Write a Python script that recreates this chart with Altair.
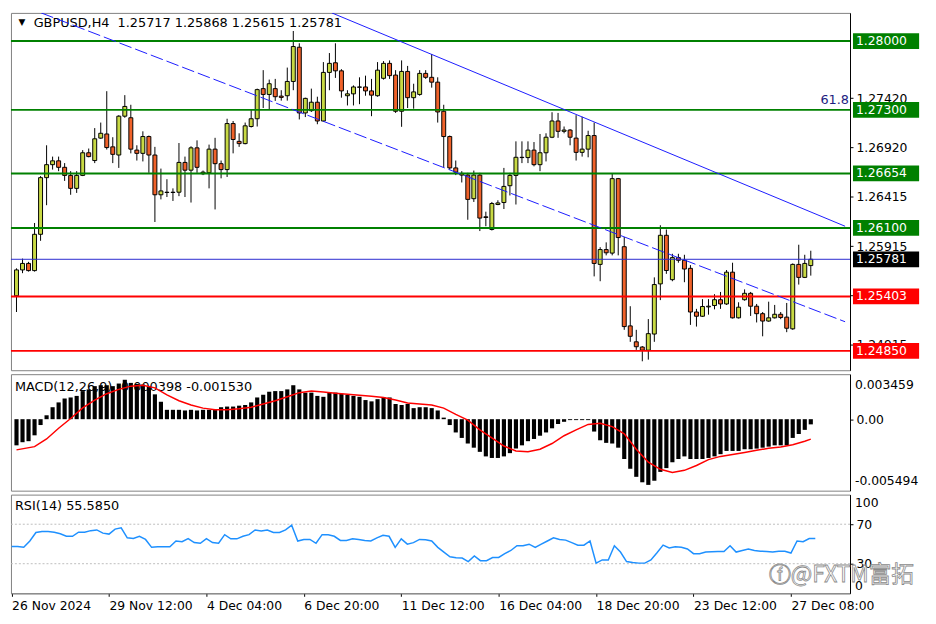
import altair as alt
import pandas as pd

# ---------------- data ----------------
opens = [1.25410, 1.25673, 1.25739, 1.25666, 1.26035, 1.26611, 1.26743, 1.26782, 1.26716, 1.26634,
         1.26502, 1.26634, 1.26864, 1.26785, 1.27013, 1.27055, 1.26924, 1.26841, 1.27236, 1.27220,
         1.26891, 1.26858, 1.27029, 1.26841, 1.26437, 1.26460, 1.26463, 1.26463, 1.26766, 1.26687,
         1.26914, 1.26667, 1.26660, 1.26901, 1.26753, 1.26693, 1.27161, 1.26980, 1.26957, 1.27131,
         1.27210, 1.27516, 1.27457, 1.27516, 1.27440, 1.27444, 1.27589, 1.27937, 1.27269, 1.27292,
         1.27378, 1.27187, 1.27681, 1.27779, 1.27697, 1.27444, 1.27463, 1.27533, 1.27533, 1.27493,
         1.27444, 1.27621, 1.27773, 1.27654, 1.27286, 1.27691, 1.27424, 1.27457, 1.27671, 1.27631,
         1.27582, 1.27286, 1.27029, 1.26710, 1.26654, 1.26637, 1.26397, 1.26637, 1.26213, 1.26084,
         1.26338, 1.26358, 1.26529, 1.26634, 1.26815, 1.26815, 1.26891, 1.26743, 1.26864, 1.27022,
         1.27187, 1.27082, 1.27095, 1.27013, 1.26868, 1.26901, 1.27039, 1.25729, 1.25880, 1.25844,
         1.26601, 1.25909, 1.25104, 1.24942, 1.24889, 1.24857, 1.25021, 1.25531, 1.26025, 1.25574,
         1.25798, 1.25771, 1.25689, 1.25245, 1.25202, 1.25297, 1.25311, 1.25370, 1.25327, 1.25650,
         1.25186, 1.25370, 1.25435, 1.25304, 1.25228, 1.25153, 1.25186, 1.25222, 1.25193, 1.25074,
         1.25729, 1.25597, 1.25717]
highs = [1.25689, 1.25788, 1.25755, 1.26150, 1.26627, 1.26940, 1.26825, 1.26825, 1.26759, 1.26677,
         1.26677, 1.26891, 1.26907, 1.27115, 1.27171, 1.27490, 1.27022, 1.27246, 1.27450, 1.27352,
         1.26940, 1.27082, 1.27039, 1.26924, 1.26703, 1.26595, 1.26502, 1.26963, 1.26825, 1.26930,
         1.26990, 1.26683, 1.26947, 1.27016, 1.26785, 1.27210, 1.27187, 1.27062, 1.27171, 1.27302,
         1.27516, 1.27704, 1.27608, 1.27615, 1.27500, 1.27730, 1.28102, 1.27977, 1.27424, 1.27516,
         1.27434, 1.27786, 1.27878, 1.27977, 1.27714, 1.27500, 1.27549, 1.27631, 1.27648, 1.27615,
         1.27786, 1.27796, 1.27803, 1.27704, 1.27803, 1.27747, 1.27566, 1.27704, 1.27704, 1.27868,
         1.27631, 1.27352, 1.27039, 1.26785, 1.26677, 1.26660, 1.26683, 1.26660, 1.26265, 1.26364,
         1.26381, 1.26710, 1.26660, 1.26980, 1.26980, 1.26980, 1.26973, 1.27055, 1.27062, 1.27276,
         1.27269, 1.27131, 1.27105, 1.27246, 1.27230, 1.27088, 1.27171, 1.25904, 1.25953, 1.26654,
         1.26608, 1.26008, 1.25304, 1.25064, 1.24899, 1.25173, 1.25597, 1.26127, 1.26084, 1.25837,
         1.25837, 1.25827, 1.25722, 1.25277, 1.25376, 1.25376, 1.25426, 1.25449, 1.25672, 1.25746,
         1.25344, 1.25475, 1.25449, 1.25327, 1.25245, 1.25350, 1.25317, 1.25245, 1.25337, 1.25739,
         1.25929, 1.25827, 1.25868]
lows = [1.25245, 1.25640, 1.25656, 1.25656, 1.25969, 1.26331, 1.26693, 1.26677, 1.26578, 1.26437,
        1.26456, 1.26627, 1.26818, 1.26759, 1.27006, 1.26897, 1.26759, 1.26710, 1.27220, 1.26858,
        1.26785, 1.26776, 1.26660, 1.26160, 1.26390, 1.26414, 1.26374, 1.26423, 1.26414, 1.26358,
        1.26660, 1.26637, 1.26502, 1.26288, 1.26604, 1.26618, 1.26858, 1.26924, 1.26950, 1.27121,
        1.27131, 1.27319, 1.27302, 1.27391, 1.27394, 1.27394, 1.27500, 1.27203, 1.27227, 1.27279,
        1.27154, 1.27180, 1.27500, 1.27625, 1.27424, 1.27345, 1.27345, 1.27358, 1.27444, 1.27236,
        1.27434, 1.27608, 1.27615, 1.27269, 1.27128, 1.27319, 1.27312, 1.27444, 1.27615, 1.27526,
        1.27171, 1.26720, 1.26693, 1.26637, 1.26562, 1.26183, 1.26364, 1.26068, 1.26117, 1.26074,
        1.26331, 1.26292, 1.26430, 1.26338, 1.26759, 1.26759, 1.26726, 1.26677, 1.26776, 1.27013,
        1.27016, 1.27062, 1.26940, 1.26785, 1.26825, 1.26818, 1.25607, 1.25558, 1.25821, 1.25821,
        1.25821, 1.25064, 1.24942, 1.24860, 1.24744, 1.24761, 1.24942, 1.25366, 1.25633, 1.25558,
        1.25746, 1.25548, 1.25114, 1.25097, 1.25195, 1.25218, 1.25272, 1.25277, 1.25317, 1.25179,
        1.25179, 1.25360, 1.25205, 1.25139, 1.24998, 1.25146, 1.25179, 1.25172, 1.25040, 1.25064,
        1.25524, 1.25590, 1.25615]
closes = [1.25673, 1.25739, 1.25666, 1.26035, 1.26611, 1.26743, 1.26782, 1.26716, 1.26634, 1.26502,
          1.26634, 1.26864, 1.26825, 1.27006, 1.27062, 1.26917, 1.26848, 1.27236, 1.27335, 1.26901,
          1.26858, 1.27029, 1.26841, 1.26437, 1.26476, 1.26463, 1.26460, 1.26766, 1.26687, 1.26914,
          1.26716, 1.26651, 1.26901, 1.26753, 1.26693, 1.27161, 1.26999, 1.26957, 1.27138, 1.27210,
          1.27506, 1.27457, 1.27566, 1.27434, 1.27427, 1.27589, 1.27944, 1.27269, 1.27417, 1.27378,
          1.27187, 1.27681, 1.27773, 1.27697, 1.27493, 1.27463, 1.27533, 1.27530, 1.27493, 1.27450,
          1.27704, 1.27773, 1.27648, 1.27286, 1.27691, 1.27424, 1.27483, 1.27671, 1.27631, 1.27582,
          1.27279, 1.27029, 1.26710, 1.26667, 1.26637, 1.26390, 1.26637, 1.26200, 1.26206, 1.26348,
          1.26354, 1.26522, 1.26634, 1.26818, 1.26818, 1.26891, 1.26743, 1.26864, 1.27022, 1.27187,
          1.27082, 1.27095, 1.27022, 1.26868, 1.26901, 1.27039, 1.25739, 1.25880, 1.25847, 1.26601,
          1.26002, 1.25097, 1.24998, 1.24892, 1.24857, 1.25025, 1.25524, 1.26025, 1.25667, 1.25798,
          1.25771, 1.25682, 1.25245, 1.25202, 1.25301, 1.25304, 1.25370, 1.25327, 1.25650, 1.25186,
          1.25294, 1.25435, 1.25304, 1.25228, 1.25153, 1.25186, 1.25222, 1.25189, 1.25080, 1.25729,
          1.25597, 1.25739, 1.25781]

macd_hist = [-0.00201, -0.00177, -0.00169, -0.00124, -0.00045, 0.00030, 0.00092, 0.00129, 0.00159, 0.00167,
             0.00179, 0.00216, 0.00229, 0.00254, 0.00261, 0.00261, 0.00254, 0.00274, 0.00303, 0.00279,
             0.00271, 0.00266, 0.00254, 0.00191, 0.00134, 0.00072, 0.00072, 0.00072, 0.00067, 0.00072,
             0.00067, 0.00072, 0.00072, 0.00072, 0.00092, 0.00097, 0.00097, 0.00104, 0.00109, 0.00129,
             0.00167, 0.00187, 0.00211, 0.00216, 0.00216, 0.00229, 0.00261, 0.00229, 0.00204, 0.00204,
             0.00179, 0.00172, 0.00204, 0.00204, 0.00196, 0.00187, 0.00179, 0.00172, 0.00147, 0.00137,
             0.00154, 0.00167, 0.00167, 0.00117, 0.00109, 0.00117, 0.00085, 0.00092, 0.00092, 0.00085,
             0.00067, 0.00012, -0.00045, -0.00102, -0.00144, -0.00187, -0.00219, -0.00251, -0.00286, -0.00298,
             -0.00298, -0.00286, -0.00261, -0.00226, -0.00201, -0.00169, -0.00152, -0.00127, -0.00102, -0.00070,
             -0.00037, -0.00020, -0.00007, -0.00007, -0.00007, -0.00007, -0.00095, -0.00162, -0.00182, -0.00187,
             -0.00219, -0.00306, -0.00381, -0.00443, -0.00485, -0.00505, -0.00473, -0.00405, -0.00376, -0.00331,
             -0.00306, -0.00286, -0.00306, -0.00306, -0.00306, -0.00298, -0.00286, -0.00269, -0.00244, -0.00244,
             -0.00244, -0.00231, -0.00231, -0.00226, -0.00219, -0.00211, -0.00201, -0.00201, -0.00201, -0.00144,
             -0.00114, -0.00082, -0.000398]

signal_idx = [0, 3, 5, 7, 9, 11, 13, 15, 17, 19, 21, 23, 25, 27, 29, 31, 33, 35, 37, 39,
              41, 43, 45, 47, 49, 51, 53, 55, 57, 59, 61, 63, 65, 67, 69, 71, 73, 75, 77, 79,
              81, 83, 85, 87, 89, 91, 93, 95, 97, 99, 101, 103, 105, 107, 109, 111, 113, 115, 117, 119,
              121, 123, 125, 127, 129, 131, 132]
signal_val = [-0.00236, -0.00211, -0.00152, -0.00070, 0.00005, 0.00087, 0.00147, 0.00196, 0.00229, 0.00254,
              0.00261, 0.00241, 0.00187, 0.00142, 0.00109, 0.00085, 0.00072, 0.00072, 0.00080, 0.00092,
              0.00117, 0.00142, 0.00172, 0.00204, 0.00216, 0.00209, 0.00199, 0.00191, 0.00184, 0.00177,
              0.00167, 0.00147, 0.00124, 0.00117, 0.00109, 0.00085, 0.00037, -0.00007, -0.00082, -0.00144,
              -0.00206, -0.00244, -0.00251, -0.00231, -0.00187, -0.00127, -0.00082, -0.00040, -0.00032, -0.00057,
              -0.00112, -0.00231, -0.00331, -0.00385, -0.00410, -0.00393, -0.00356, -0.00311, -0.00286, -0.00271,
              -0.00256, -0.00239, -0.00224, -0.00214, -0.00196, -0.00169, -0.00153]

rsi_vals = [47.5, 47.5, 46.6, 53.0, 61.6, 62.6, 62.6, 61.9, 60.3, 57.8,
            57.8, 61.9, 61.9, 63.5, 64.2, 61.0, 60.0, 65.1, 66.4, 56.2,
            55.5, 57.8, 54.6, 46.6, 47.2, 47.2, 47.2, 53.0, 52.3, 55.5,
            51.4, 50.7, 55.5, 51.4, 50.7, 59.4, 55.2, 55.2, 57.8, 59.4,
            64.2, 63.2, 64.2, 61.6, 61.6, 64.2, 69.0, 53.0, 54.6, 54.6,
            50.7, 59.4, 59.4, 57.8, 53.6, 53.6, 55.2, 54.6, 53.6, 53.0,
            56.2, 58.7, 57.8, 46.6, 55.2, 49.8, 51.4, 54.6, 54.2, 53.0,
            46.6, 41.8, 37.0, 36.0, 35.7, 32.2, 37.9, 33.1, 33.1, 36.3,
            36.3, 40.2, 43.4, 48.2, 48.2, 49.8, 46.6, 49.8, 53.0, 56.2,
            54.6, 53.9, 51.4, 48.8, 48.8, 53.0, 30.6, 33.8, 33.8, 48.2,
            41.8, 32.2, 31.2, 30.6, 30.6, 33.8, 41.1, 48.8, 45.9, 47.2,
            46.6, 45.0, 40.2, 40.2, 41.8, 42.1, 42.4, 42.4, 48.2, 41.8,
            43.4, 45.0, 43.4, 42.7, 42.4, 41.8, 42.7, 42.7, 40.8, 53.0,
            52.3, 55.5, 55.585]

time_ticks = [0, 16, 32, 48, 64, 80, 96, 112, 128]
time_labels = ["26 Nov 2024", "29 Nov 12:00", "4 Dec 04:00", "6 Dec 20:00", "11 Dec 12:00",
               "16 Dec 04:00", "18 Dec 20:00", "23 Dec 12:00", "27 Dec 08:00"]
price_ticks = [1.27420, 1.26920, 1.26415, 1.25915, 1.25415, 1.24915]
green_levels = [1.28000, 1.27300, 1.26654, 1.26100]
red_levels = [1.25403, 1.24850]
bid_price = 1.25781
trend_solid_i = [52.4, 137.7]
trend_solid_p = [1.28286, 1.26117]
trend_dash_i = [4.1, 137.7]
trend_dash_p = [1.28286, 1.25146]
fib_text = "61.8"
fib_price = 1.27405
macd_max, macd_min = 0.003459, -0.005494
rsi_levels = [70, 30]
header = "GBPUSD,H4\u00a0 1.25717 1.25868 1.25615 1.25781"
macd_header = "MACD(12,26,9) -0.000398 -0.001530"
rsi_header = "RSI(14) 55.5850"

# ---------------- styling ----------------
W, H1, H2, H3 = 850, 362, 118, 100
FONT = "DejaVu Sans"
BULL, BEAR = "#c8d944", "#f0622a"
GREEN, RED, BLUE = "#008000", "#ff0000", "#1a1aff"

n = len(opens)
candles = pd.DataFrame({"i": list(range(n)), "open": opens, "high": highs, "low": lows, "close": closes})
candles["dir"] = ["up" if c >= o else "down" for o, c in zip(opens, closes)]

xs = alt.Scale(domain=[-0.1, 137.7], nice=False, zero=False)
x_enc = alt.X("i:Q", scale=xs, axis=None)

ps = alt.Scale(domain=[1.24653, 1.28286], nice=False, zero=False)
p_axis = alt.Axis(orient="right", values=price_ticks, format=".5f", labelFont=FONT, labelFontSize=12.5,
                  labelColor="black", tickColor="black", tickSize=3, domainColor="black", grid=False,
                  title=None, labelPadding=3, labelFlush=False, labelOverlap=False, labelBound=False)


def py(field):
    return alt.Y(field, type="quantitative", scale=ps, axis=p_axis)


one = pd.DataFrame({"k": [0]})

title_tri = alt.Chart(one).mark_text(text="\u25bc", font=FONT, fontSize=9, align="center",
                                     baseline="middle", color="black").encode(
    x=alt.value(11), y=alt.value(9))
title_txt = alt.Chart(one).mark_text(text=header, font=FONT, fontSize=13, align="left",
                                     baseline="middle", color="black").encode(
    x=alt.value(23), y=alt.value(10))

wicks = alt.Chart(candles).mark_rule(color="black", strokeWidth=1, clip=True).encode(
    x=x_enc, y=py("low"), y2="high")
bodies = alt.Chart(candles).mark_bar(size=4, stroke="black", strokeWidth=1, clip=True).encode(
    x=x_enc, y=py("open"), y2="close",
    fill=alt.Fill("dir:N", scale=alt.Scale(domain=["up", "down"], range=[BULL, BEAR]), legend=None))

g_df = pd.DataFrame({"price": green_levels})
r_df = pd.DataFrame({"price": red_levels})
b_df = pd.DataFrame({"price": [bid_price]})
g_lines = alt.Chart(g_df).mark_rule(color=GREEN, strokeWidth=2).encode(y=py("price"))
r_lines = alt.Chart(r_df).mark_rule(color=RED, strokeWidth=2).encode(y=py("price"))
b_line = alt.Chart(b_df).mark_rule(color="#2a2ad0", strokeWidth=1).encode(y=py("price"))

tr_solid = alt.Chart(pd.DataFrame({"i": trend_solid_i, "price": trend_solid_p})).mark_line(
    color=BLUE, strokeWidth=1, clip=True).encode(x=x_enc, y=py("price"))
tr_dash = alt.Chart(pd.DataFrame({"i": trend_dash_i, "price": trend_dash_p})).mark_line(
    color=BLUE, strokeWidth=1, strokeDash=[13, 4], clip=True).encode(x=x_enc, y=py("price"))

fib = alt.Chart(pd.DataFrame({"price": [fib_price], "t": [fib_text]})).mark_text(
    font=FONT, fontSize=13, align="right", baseline="middle", color="#1c1c80").encode(
    x=alt.value(W - 1), y=py("price"), text="t:N")

box_prices = green_levels + [bid_price] + red_levels
box_cols = [GREEN] * len(green_levels) + ["#000000"] + [RED] * len(red_levels)
boxes_df = pd.DataFrame({"price": box_prices, "col": box_cols,
                         "label": [f"{p:.5f}" for p in box_prices]})
boxes = alt.Chart(boxes_df).mark_rule(strokeWidth=16, strokeCap="butt").encode(
    y=py("price"), x=alt.value(W + 3), x2=alt.value(W + 70),
    stroke=alt.Stroke("col:N", scale=None))
box_txt = alt.Chart(boxes_df).mark_text(font=FONT, fontSize=12.5, align="left", baseline="middle",
                                        color="white").encode(
    y=py("price"), x=alt.value(W + 6), text="label:N")

price_chart = alt.layer(title_tri, title_txt, wicks, bodies, g_lines, r_lines, b_line,
                        tr_solid, tr_dash, fib, boxes, box_txt).properties(width=W, height=H1)

# ---------------- MACD ----------------
ms = alt.Scale(domain=[macd_min, macd_max], nice=False, zero=False)
m_axis = alt.Axis(orient="right", values=[0.0], labelExpr="'0.00'",
                  labelFont=FONT, labelFontSize=12.5, labelColor="black", tickColor="black",
                  tickSize=3, domainColor="black", grid=False, title=None, labelPadding=3,
                  labelFlush=False, labelOverlap=False, labelBound=False)
macd_df = pd.DataFrame({"i": list(range(n)), "v": macd_hist})
sig_df = pd.DataFrame({"i": signal_idx, "v": signal_val})

m_title = alt.Chart(one).mark_text(text=macd_header, font=FONT, fontSize=13, align="left",
                                   baseline="middle", color="black").encode(
    x=alt.value(4), y=alt.value(13))
m_bars = alt.Chart(macd_df).mark_bar(size=4.2, color="black").encode(
    x=x_enc, y=alt.Y("v:Q", scale=ms, axis=m_axis), y2=alt.datum(0))
m_sig = alt.Chart(sig_df).mark_line(color="#ff0000", strokeWidth=1.5).encode(
    x=x_enc, y=alt.Y("v:Q", scale=ms, axis=m_axis))
m_top = alt.Chart(one).mark_text(text=f"{macd_max:.6f}", font=FONT, fontSize=12.5, align="left",
                                 baseline="middle", color="black").encode(
    x=alt.value(W + 5), y=alt.value(11))
m_bot = alt.Chart(one).mark_text(text=f"{macd_min:.6f}", font=FONT, fontSize=12.5, align="left",
                                 baseline="middle", color="black").encode(
    x=alt.value(W + 5), y=alt.value(H2 - 10))
macd_chart = alt.layer(m_title, m_bars, m_sig, m_top, m_bot).properties(width=W, height=H2)

# ---------------- RSI ----------------
rs = alt.Scale(domain=[0, 100], nice=False, zero=False)
r_axis = alt.Axis(orient="right", values=rsi_levels, format="d", labelFont=FONT, labelFontSize=12.5,
                  labelColor="black", tickColor="black", tickSize=3, domainColor="black", grid=False,
                  title=None, labelPadding=3, labelFlush=False, labelOverlap=False, labelBound=False)
lbl_list = "[" + ",".join("'" + s + "'" for s in time_labels) + "]"
tk_list = "[" + ",".join(str(t) for t in time_ticks) + "]"
x_axis = alt.Axis(orient="bottom", values=time_ticks, labelExpr=f"{lbl_list}[indexof({tk_list}, datum.value)]",
                  labelAlign="left", labelBaseline="top", labelFont=FONT, labelFontSize=12.5,
                  labelColor="black", tickColor="black", tickSize=3, domainColor="#808080",
                  grid=False, title=None, labelPadding=3, labelFlush=False, labelOverlap=False,
                  labelBound=False)
rsi_df = pd.DataFrame({"i": list(range(n)), "v": rsi_vals})
lv_df = pd.DataFrame({"v": rsi_levels})

r_title = alt.Chart(one).mark_text(text=rsi_header, font=FONT, fontSize=13, align="left",
                                   baseline="middle", color="black").encode(
    x=alt.value(4), y=alt.value(12))
r_levels = alt.Chart(lv_df).mark_rule(color="#bdbdbd", strokeWidth=1, strokeDash=[2, 2]).encode(
    y=alt.Y("v:Q", scale=rs, axis=r_axis))
r_line = alt.Chart(rsi_df).mark_line(color="#1e90ff", strokeWidth=1.5).encode(
    x=alt.X("i:Q", scale=xs, axis=x_axis), y=alt.Y("v:Q", scale=rs, axis=r_axis))
r_top = alt.Chart(one).mark_text(text="100", font=FONT, fontSize=12.5, align="left",
                                 baseline="middle", color="black").encode(
    x=alt.value(W + 5), y=alt.value(9))
r_bot = alt.Chart(one).mark_text(text="0", font=FONT, fontSize=12.5, align="left",
                                 baseline="middle", color="black").encode(
    x=alt.value(W + 5), y=alt.value(H3 - 7))
wm_icon = alt.Chart(one).mark_text(text="\u24d5", font=FONT, fontSize=22, align="left",
                                   baseline="middle", fill="#ffffff", fillOpacity=0.0,
                                   stroke="#8a8a8a", strokeWidth=0.8).encode(
    x=alt.value(W - 82), y=alt.value(H3 - 18))
wm_txt = alt.Chart(one).mark_text(text="@FXTM富拓", font="Noto Sans CJK SC", fontSize=23,
                                  align="left", baseline="middle", fill="#ffffff", fillOpacity=0.0,
                                  stroke="#8a8a8a", strokeWidth=0.8).encode(
    x=alt.value(W - 60), y=alt.value(H3 - 18))
rsi_chart = alt.layer(r_title, r_levels, r_line, r_top, r_bot, wm_icon, wm_txt).properties(
    width=W, height=H3)

chart = alt.vconcat(price_chart, macd_chart, rsi_chart, spacing=2).properties(
    padding=0, background="white").configure_view(stroke="#808080", strokeWidth=1)

chart.save("out.html", embed_options={"renderer": "svg", "actions": False})
